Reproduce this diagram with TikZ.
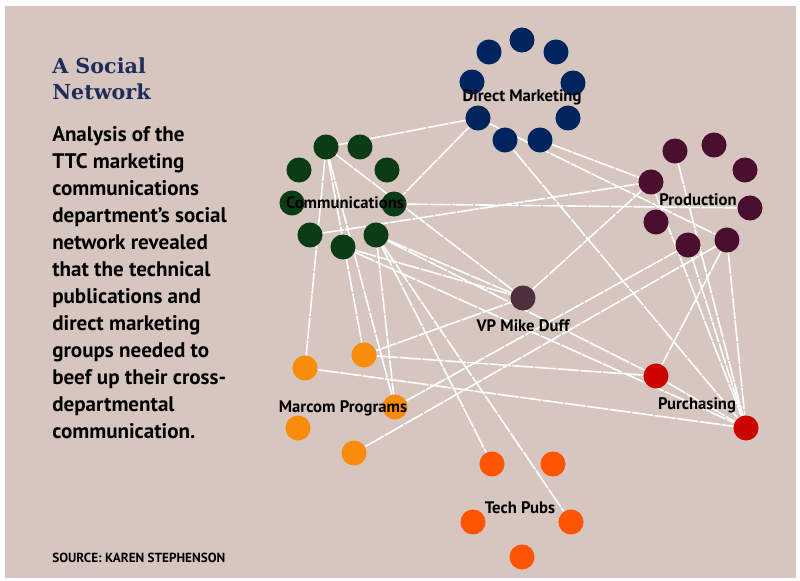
\documentclass[tikz,border=0pt]{standalone}
\usepackage{fontspec}
\setmainfont{PT Sans}
\newfontfamily\slabfont{DejaVu Serif}
\usetikzlibrary{positioning}

\definecolor{Paper}{RGB}{214,198,191}
\definecolor{TitleBlue}{RGB}{30,45,90}
\definecolor{DmBlue}{RGB}{0,36,92}
\definecolor{CommGreen}{RGB}{12,60,22}
\definecolor{ProdPlum}{RGB}{74,14,46}
\definecolor{VpPlum}{RGB}{78,48,62}
\definecolor{PurchRed}{RGB}{204,4,0}
\definecolor{MarcomAmber}{RGB}{250,140,12}
\definecolor{PubsOrange}{RGB}{255,84,0}

\pgfdeclarelayer{paper}
\pgfdeclarelayer{links}
\pgfsetlayers{paper,links,main}

\tikzstyle{Dot}=[circle, inner sep=0pt, minimum size=18.8pt]
\tikzstyle{DmDot}=[Dot, fill=DmBlue]
\tikzstyle{CommDot}=[Dot, fill=CommGreen]
\tikzstyle{ProdDot}=[Dot, fill=ProdPlum]
\tikzstyle{VpDot}=[Dot, fill=VpPlum]
\tikzstyle{PurchDot}=[Dot, fill=PurchRed]
\tikzstyle{MarcomDot}=[Dot, fill=MarcomAmber]
\tikzstyle{PubsDot}=[Dot, fill=PubsOrange]
\tikzstyle{GroupLabel}=[inner sep=0pt, text=black, font=\bfseries\fontsize{12.5}{14}\selectfont]
\tikzstyle{Link}=[draw=white, line width=1.2pt, dash pattern=on 16pt off 1pt]

\begin{document}
\begin{tikzpicture}[x=0.75pt, y=-0.75pt]
			\useasboundingbox (0,0) rectangle (800,581);
			\begin{pgfonlayer}{paper}
				\fill[Paper] (5,6) rectangle (796,578);
			\end{pgfonlayer}

			%Text
			\node[anchor=base west, inner sep=0pt, align=left, text=TitleBlue,
				font=\slabfont\bfseries\fontsize{15.5}{19.5}\selectfont]
				(title) at (52,100) {A Social\\Network};
			\node[inner sep=0pt, align=left, font=\bfseries\fontsize{15.8}{20.25}\selectfont]
				(story) [below=19pt of title.south west, anchor=north west] {Analysis of the\\TTC marketing\\communications\\department's social\\network revealed\\that the technical\\publications and\\direct marketing\\groups needed to\\beef up their cross-\\departmental\\communication.};
			\node[anchor=base west, inner sep=0pt, font=\bfseries\fontsize{9.9}{11}\selectfont]
				(source) at (52,562) {SOURCE: KAREN STEPHENSON};

			%Direct Marketing
			\node[DmDot] (dm1) at (522,40) {};
			\node[DmDot] (dm2) at (556,52) {};
			\node[DmDot] (dm3) at (573,83) {};
			\node[DmDot] (dm4) at (568,118) {};
			\node[DmDot] (dm5) at (540,140) {};
			\node[DmDot] (dm6) at (505,140) {};
			\node[DmDot] (dm7) at (478,118) {};
			\node[DmDot] (dm8) at (472,82) {};
			\node[DmDot] (dm9) at (489,52) {};

			%Communications
			\node[CommDot] (c1) at (326,147) {};
			\node[CommDot] (c2) at (360,147) {};
			\node[CommDot] (c3) at (387,170) {};
			\node[CommDot] (c4) at (394,204) {};
			\node[CommDot] (c5) at (376,235) {};
			\node[CommDot] (c6) at (343,247) {};
			\node[CommDot] (c7) at (310,235) {};
			\node[CommDot] (c8) at (292,203) {};
			\node[CommDot] (c9) at (299,170) {};

			%Production
			\node[ProdDot] (p1) at (675,151) {};
			\node[ProdDot] (p2) at (714,145) {};
			\node[ProdDot] (p3) at (745,170) {};
			\node[ProdDot] (p4) at (750,208) {};
			\node[ProdDot] (p5) at (727,240) {};
			\node[ProdDot] (p6) at (688,245) {};
			\node[ProdDot] (p7) at (656,222) {};
			\node[ProdDot] (p8) at (651,182) {};

			%VP, Purchasing
			\node[VpDot] (vp) at (523,298) {};
			\node[PurchDot] (pu1) at (656,376) {};
			\node[PurchDot] (pu2) at (746,428) {};

			%Marcom Programs
			\node[MarcomDot] (m1) at (305,368) {};
			\node[MarcomDot] (m2) at (364,355) {};
			\node[MarcomDot] (m3) at (395,407) {};
			\node[MarcomDot] (m4) at (298,428) {};
			\node[MarcomDot] (m5) at (354,453) {};

			%Tech Pubs
			\node[PubsDot] (t1) at (492,464) {};
			\node[PubsDot] (t2) at (553,464) {};
			\node[PubsDot] (t3) at (473,522) {};
			\node[PubsDot] (t4) at (571,522) {};
			\node[PubsDot] (t5) at (522,557) {};

			%Labels
			\node[GroupLabel] (dmlabel) at (522,97) {Direct Marketing};
			\node[GroupLabel] (commlabel) at (345,203) {Communications};
			\node[GroupLabel] (prodlabel) at (698,200) {Production};
			\node[GroupLabel] (vplabel) [below=6.5pt of vp] {VP Mike Duff};
			\node[GroupLabel] (purchlabel) at (697,405) {Purchasing};
			\node[GroupLabel] (marcomlabel) at (343,408) {Marcom Programs};
			\node[GroupLabel] (pubslabel) at (520,508) {Tech Pubs};

			%Links
			\begin{pgfonlayer}{links}
				\draw[Link] (c1) -- (dm7);
				\draw[Link] (dm7) -- (c4);
				\draw[Link] (dm7) -- (p5);
				\draw[Link] (dm5) -- (p8);
				\draw[Link] (dm6) -- (pu2);
				\draw[Link] (c4) -- (p4);
				\draw[Link] (c7) -- (p8);
				\draw[Link] (c1) -- (vp);
				\draw[Link] (c5) -- (vp);
				\draw[Link] (c6) -- (vp);
				\draw[Link] (c1) -- (m1);
				\draw[Link] (c1) -- (m2);
				\draw[Link] (c1) -- (m3);
				\draw[Link] (c5) -- (m3);
				\draw[Link] (c5) -- (t1);
				\draw[Link] (c5) -- (t4);
				\draw[Link] (c5) -- (pu1);
				\draw[Link] (c6) -- (pu2);
				\draw[Link] (m1) -- (pu2);
				\draw[Link] (m2) -- (pu1);
				\draw[Link] (m2) -- (vp);
				\draw[Link] (m3) -- (p6);
				\draw[Link] (m5) -- (p5);
				\draw[Link] (vp) -- (p8);
				\draw[Link] (p1) -- (pu2);
				\draw[Link] (p5) -- (pu1);
				\draw[Link] (p5) -- (pu2);
				\draw[Link] (p6) -- (pu2);
				\draw[Link] (p8) -- (pu2);
				\draw[Link] (pu1) -- (pu2);
			\end{pgfonlayer}

		\end{tikzpicture}
\end{document}
